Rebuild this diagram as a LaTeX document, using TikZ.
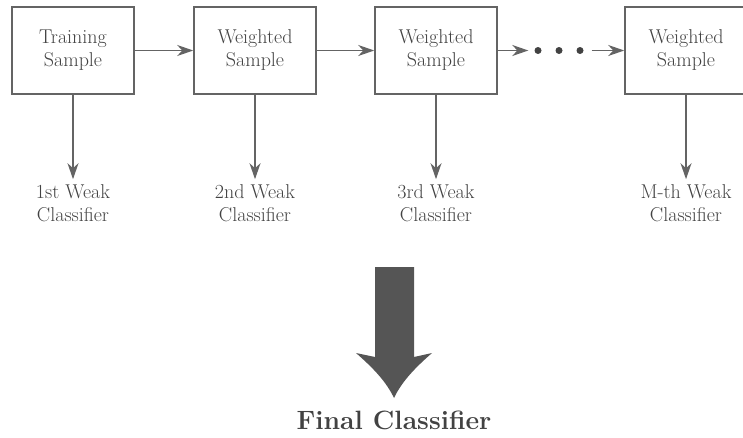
\documentclass[tikz,border=0pt]{standalone}
\usetikzlibrary{arrows.meta}
\definecolor{linegray}{HTML}{646464}
\definecolor{textgray}{HTML}{424242}
\definecolor{bigarrow}{HTML}{555555}
\newcommand{\labelfont}{\fontsize{20}{23}\selectfont}
\newcommand{\finalfont}{\fontsize{26.5}{30}\selectfont\bfseries}
\tikzset{
  stagebox/.style={draw=linegray, line width=1.6pt, minimum width=122pt,
    minimum height=87pt, align=center, text=textgray, font=\labelfont, inner sep=0pt},
  weaklabel/.style={align=center, text=textgray, font=\labelfont, inner sep=2pt},
  flow/.style={draw=linegray, line width=1.5pt,
    -{Stealth[length=16pt, width=11pt, inset=5pt]}},
  gap/.style={circle, fill=textgray, inner sep=0pt, minimum size=7pt},
}
\begin{document}
\begin{tikzpicture}[x=1pt, y=-1pt]
  \useasboundingbox (0,0) rectangle (743,437);
  \clip (0,0) rectangle (743,437);

  % sample boxes
  \node[stagebox] (b1) at (73,50.5)  {Training\\Sample};
  \node[stagebox] (b2) at (255,50.5) {Weighted\\Sample};
  \node[stagebox] (b3) at (436,50.5) {Weighted\\Sample};
  \node[stagebox] (b4) at (686,50.5) {Weighted\\Sample};

  % ellipsis between the third and the last stage
  \node[gap] (d1) at (538,50.5) {};
  \node[gap] (d2) at (559,50.5) {};
  \node[gap] (d3) at (580,50.5) {};

  % weak classifiers
  \node[weaklabel] (c1) at (73,203)  {1st Weak\\Classifier};
  \node[weaklabel] (c2) at (255,203) {2nd Weak\\Classifier};
  \node[weaklabel] (c3) at (436,203) {3rd Weak\\Classifier};
  \node[weaklabel] (c4) at (686,203) {M-th Weak\\Classifier};

  % horizontal flow
  \draw[flow] (b1) -- (b2);
  \draw[flow] (b2) -- (b3);
  \draw[flow] (b3) -- ([xshift=-6pt]d1.west);
  \draw[flow] ([xshift=8pt]d3.east) -- (b4);

  % vertical flow
  \foreach \i in {1,2,3,4}
    \draw[flow, shorten >=3pt] (b\i.south) -- (c\i.north);

  % final classifier
  \node[text=textgray, font=\finalfont, inner sep=0pt] (fc) at (394,420) {Final Classifier};
  \fill[bigarrow] (375,267) -- (414,267) -- (414,357) -- (432,353)
    .. controls (416,367) and (402,381) .. (394,398)
    .. controls (386,381) and (372,367) .. (356,353)
    -- (375,357) -- cycle;
\end{tikzpicture}
\end{document}
